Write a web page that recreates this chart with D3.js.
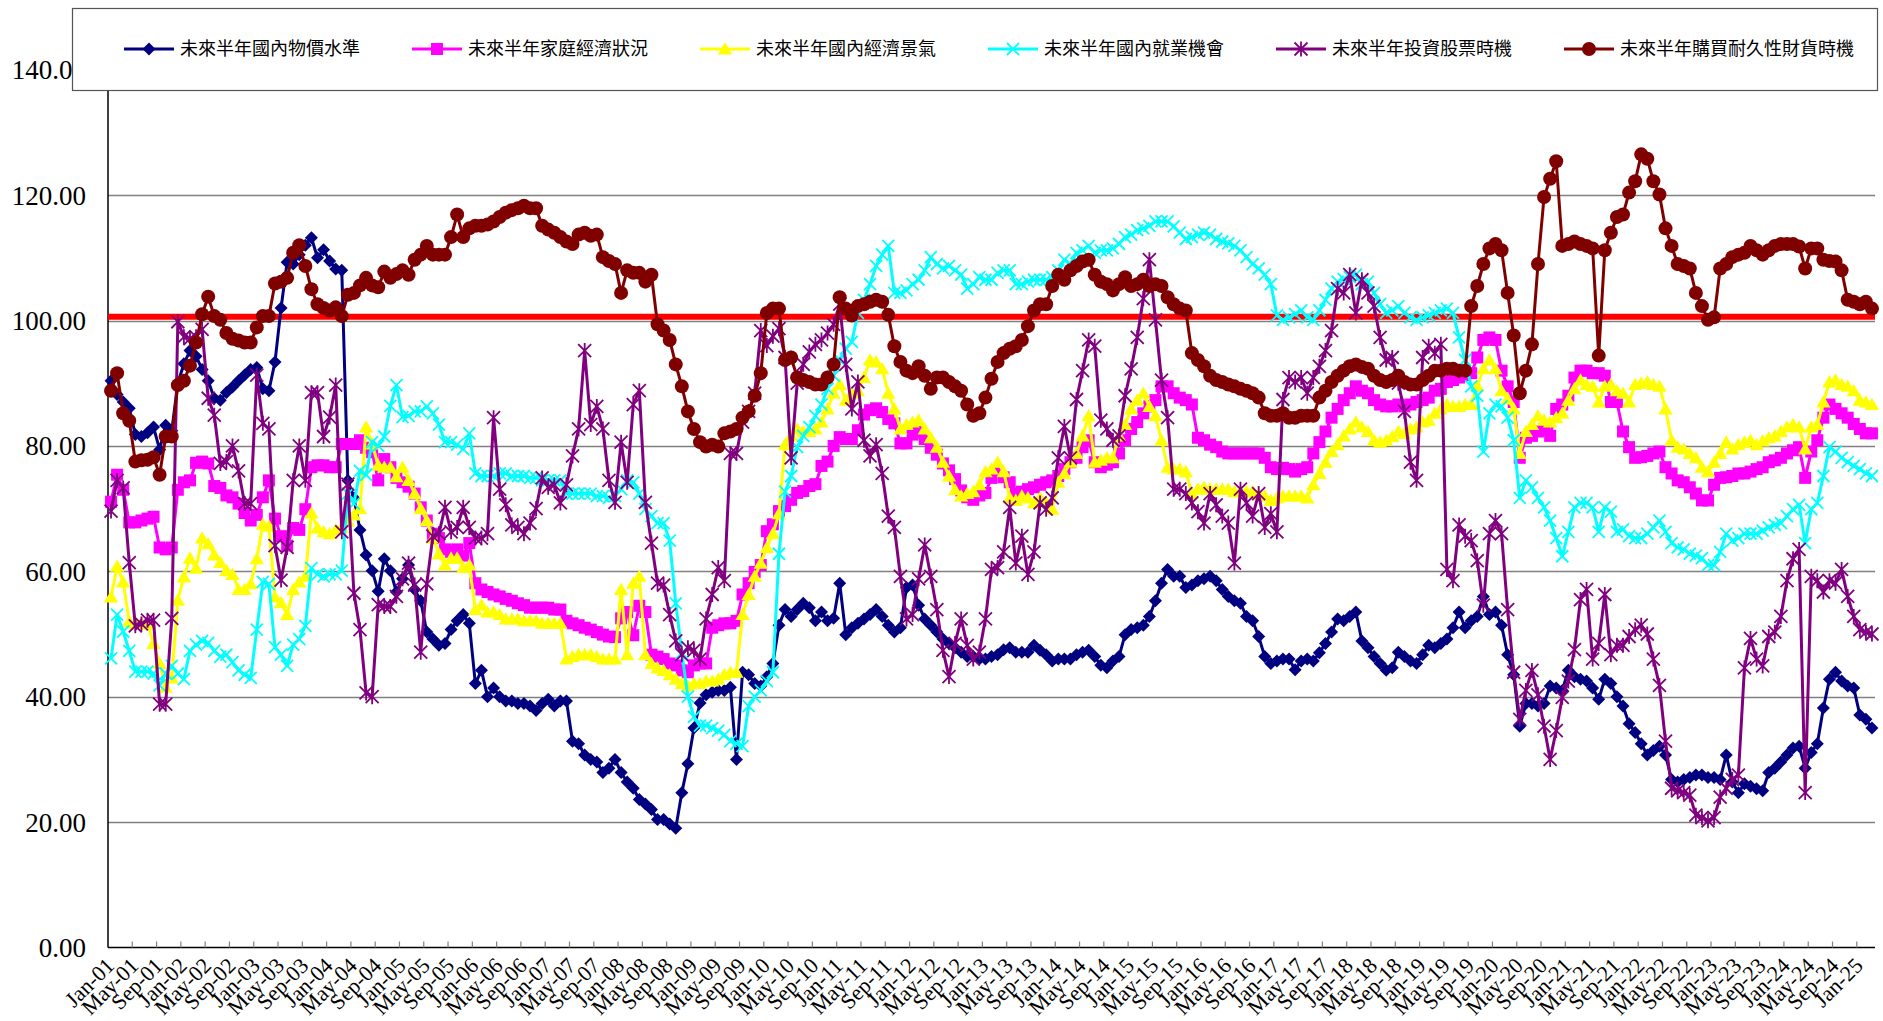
<!DOCTYPE html>
<html><head><meta charset="utf-8">
<script src="https://cdn.jsdelivr.net/npm/d3@7"></script>
<style>
html,body{margin:0;padding:0;background:#fff;overflow:hidden;}
svg{display:block;}
</style></head>
<body>
<svg id="chart" width="1883" height="1021"></svg>
<script>
// ---------------- DATA ----------------
const monthNames = ["Jan","Feb","Mar","Apr","May","Jun","Jul","Aug","Sep","Oct","Nov","Dec"];
const startYear = 2001, nMonths = 291; // Jan-01 .. Mar-25
const categories = [];
for (let i = 0; i < nMonths; i++) {
  const y = startYear + Math.floor(i / 12);
  categories.push(monthNames[i % 12] + "-" + String(y % 100).padStart(2, "0"));
}
const tickLabels = categories.filter((d, i) => i % 4 === 0);
const yTicks = [0, 20, 40, 60, 80, 100, 120, 140];
const seriesNames = ["未來半年國內物價水準","未來半年家庭經濟狀況","未來半年國內經濟景氣","未來半年國內就業機會","未來半年投資股票時機","未來半年購買耐久性財貨時機"];
const referenceLine = 100.6;

const priceLevel = [90.4,88.2,87,86,81.8,81.5,82.1,83,79.4,83.3,82.4,90,93.1,95.2,94.3,92.2,90.4,87.6,87.3,88.5,89.4,90.4,91.3,92.2,92.5,89.1,88.8,93.4,102,109.3,109,110.5,112,113.2,110,111.3,109.5,108.2,108,74.5,71.7,66.6,62.6,60.1,56.8,62,60.1,56.7,58.8,61,57.1,55.3,50.3,49.2,48.2,48.5,50.7,52.1,53.1,51.7,42.1,44.2,40,41.4,40,39.3,39.3,38.9,38.9,38.5,37.8,38.9,39.6,38.5,39.3,39.3,32.9,32.5,30.7,30,29.6,27.9,28.6,30,27.9,26.4,25.4,23.6,22.9,22,20.4,20.4,19.7,19,24.7,29.3,35,39,40.3,40.7,41,41,41.5,30,43.9,43.5,42.1,41.7,43.2,45.3,51.4,53.9,52.8,53.9,54.9,54.2,52.1,53.5,52.1,52.5,58.1,49.9,51,51.7,52.4,53.1,53.9,52.8,51.4,50.3,51,57.4,57.8,54.6,52.4,51.4,50.3,49.2,48.5,47.8,47.1,46.4,46.4,46,46,46.4,46.7,47.5,47.8,47.1,47.1,47.1,48.2,47.4,46.7,45.7,46,46,46,46.7,47.1,47.4,46.4,45,44.6,45.7,46.4,49.9,50.7,51,51.4,52.8,55.3,58.1,60.3,59.2,59.2,57.4,57.8,58.5,58.8,59.2,58.5,57.1,56,55.3,54.9,52.8,52.1,49.6,46.4,45.3,45.7,46,46,44.3,45.7,46,45.7,47,48.5,50.3,52.4,52.1,52.8,53.5,48.9,47.8,46.4,45.3,44.2,44.6,47.1,46.4,45.7,45.3,46.7,48.2,47.8,48.5,49.2,51,53.5,51,52.1,52.8,56,53.1,53.5,51.4,46.7,43.5,35.3,38.9,38.9,38.5,38.9,41.7,41.4,41,44.2,43.2,42.8,42.5,41.4,39.6,42.8,42.1,40,38.5,35.7,34.3,32.5,30.7,31.4,32.1,30.7,26.8,26.4,26.8,27.1,27.5,27.5,27.1,27.1,26.8,30.7,26.4,24.7,26.1,25.7,25.3,25,27.9,28.6,29.6,30.7,31.8,32.1,28.6,31.1,32.5,38.2,42.8,43.9,42.5,41.7,41.4,37.1,36.4,35];

const familyFinance = [71.1,75.4,73,67.8,67.8,68.1,68.4,68.7,63.8,63.5,63.8,73,74.2,74.5,77.3,77.5,77.2,73.6,73.3,72.1,71.8,70.8,69.3,68.1,69,71.8,74.5,68.4,65.6,64.1,66.9,66.6,69.9,76.6,76.9,76.9,76.6,76.6,80.3,80.3,80.3,80.9,79.7,79,74.5,77.9,76.6,74.9,74.2,73.5,72.4,70.2,68.1,66,65.3,63.5,63.1,63.5,62.5,64.5,58.1,57.1,56.7,56.3,56,55.6,55.3,54.9,54.6,54.2,54.2,54.2,54.2,53.9,53.9,52.1,51.7,51.4,51,50.7,50.3,49.9,49.6,49.5,52.5,53.5,49.8,54.5,53.5,46.7,46.4,46,45.3,45,44.2,43.9,45,45.3,45.3,51,51.4,51.7,51.7,52.1,56.3,58.1,59.9,61,66.4,67.5,69.6,70.4,71.4,72.5,72.8,73.6,73.9,76.8,77.5,80,81.4,81.1,81.1,82.5,85,85.7,86,85.4,84.3,83.6,80.4,80.4,81.8,82.2,81.1,79.7,78.6,77.2,76.1,74.7,72.9,71.8,71.4,72.1,72.5,74.9,75.9,75,74.2,72.4,72.7,73.1,73.4,73.8,74.2,74.5,75.2,76.3,77.4,78.1,79.8,80.9,77.4,76.6,77,77.4,78.8,80.9,82.7,83.8,85.2,86.3,87.3,89.5,89.5,88.4,87.7,87.3,86.6,81.3,80.9,80.2,79.8,79.1,78.8,78.8,78.8,78.8,78.8,78.8,78.1,76.6,76.3,76.5,76.3,75.9,76.3,76.6,78.8,80.6,82.3,84.5,85.9,87.3,88.4,89.5,88.8,88.4,87.3,86.6,86.3,86.3,86.6,86.3,86.6,87,87.3,87.7,88.8,89.1,90.2,90.5,90.9,91.3,91.6,94.1,96.9,97.3,96.9,92,89.5,87,78.1,81.3,81.6,82.3,82.7,81.6,85.9,86.6,88,90.9,92,92,91.6,91.6,91.2,87,87,82.3,79.8,78.1,78.2,78.4,78.8,79.1,76.6,75.6,74.5,74.2,73.4,72.4,71.3,71.3,73.8,74.9,75,75.2,75.6,75.6,75.9,76.3,76.6,77.4,77.7,78.1,78.8,79.3,79.8,74.9,79.1,80.9,84.5,86.6,85.9,85.2,84.5,83.5,82.7,82,82];

const economyOutlook = [55.9,60.8,58.3,52,51.6,51.8,51.6,48.5,45.3,41.5,43,55.4,59.1,62.1,60.5,65.3,64.4,62.6,61.4,60.1,59.5,57.1,57.1,58,62,67.5,67.2,55.9,55,53.1,57.1,58.3,59.2,69.3,66.9,66.3,66,66.6,67,68,69,70,83,80.3,76.9,76.6,76.6,75.1,76.6,74.5,72.4,70,68.1,65.3,62.8,61,62.1,62.1,60.6,61,53.9,54.6,53.5,53.5,53.1,52.4,52.4,52.4,52.1,52.1,52.1,51.7,51.7,51.7,51.7,46,46.4,46.7,46.7,46.7,46.4,46,46,46,57.1,46.7,58.1,59.2,46.7,45.3,44.6,44.2,43.5,42.8,42.1,41.7,42.1,42.1,42.5,42.5,42.8,43.5,43.9,43.9,53.1,56.3,59.2,61.3,63.8,66,69.2,80.2,81.6,82.7,82.3,82.3,82.7,83.8,85.9,88.4,89.8,87.3,88.4,88.8,90.9,93.7,93.4,92.3,88.4,85.9,82.7,83.4,83.8,84.1,82.7,81.3,79.8,77.4,75.2,73,72,72.4,72.7,73.8,75.9,76.3,77.4,75.9,71.7,71.3,72,71.7,70.9,71.7,71,69.9,74.2,75.6,77.4,78.8,81.6,84.8,77.4,77.7,78.1,78.1,81.6,83.4,85.9,87.3,88.4,86.3,84.8,80.9,76.6,76.3,76.3,75.9,72.4,73.1,73.4,73.1,73.1,73.1,73.1,72.7,72.7,72.7,72.7,72.3,72,71.3,71.7,72,72,72,72,71.7,73.8,75.6,77.4,79.1,80.2,81.6,82.7,83.8,83,82.3,80.9,80.6,80.9,81.5,82.3,82,82.7,83,83.8,84.1,85.2,85.9,86.6,86.3,86.3,86.6,86.6,89.5,92.3,93.7,92.3,88.8,87.5,85.9,78.8,82.3,83.4,84.8,84.1,83.8,84.5,85.2,87.3,89.1,90.5,89.8,89.5,87,89.5,89.8,88.8,88.4,87,89.8,90,90.2,89.8,89.5,85.9,80.9,79.8,79.5,78.8,78.1,76.6,75.9,77.4,78.8,80.6,79.5,80.2,80.6,80.9,80.2,80.8,81.3,81.6,82.3,83,83.4,83,79.5,83,83.4,87,90.2,90.5,89.8,89.5,88.8,87.3,87,86.6];

const employment = [46.1,53.1,50.4,47.3,44,44,44,43.7,41.8,43.7,44.9,43.7,42.8,47.3,48.3,48.9,48.6,47.3,46.4,46.7,45.5,44.2,43.5,43,50.7,58.3,58,47.9,46.7,44.9,48.3,49.2,51.3,60.5,59.5,59.2,59.5,59.5,60.1,72.4,70.8,76,75.4,80.6,80,81.5,86.4,89.7,84.6,84.8,85.5,85.5,86.3,85.2,83.4,80.6,80.6,80.2,79.5,82,75.6,75.2,75.2,75.2,75.6,75.6,75.2,75.2,75.2,74.9,74.9,74.5,74.5,74.5,74.5,72.4,72.4,72.4,72.4,72.4,72,72,71.7,72,73.1,74.5,74.2,72.4,69.9,68.8,67.7,67.7,64.9,54.9,47,40,36.8,35.4,35.4,35,34.6,33.9,32.9,32.5,32.1,38.5,40,41,42.5,43.9,62.8,72.7,75.2,79.8,81.6,83,84.8,86.6,89.1,91.2,93.7,95.5,96.6,101.2,103.3,105.8,108.7,110.5,111.9,104.4,104.4,104.8,105.8,106.5,108,110.1,109,108.3,108.7,108,107.3,105.1,105.8,106.9,106.5,106.5,107.6,108,108,105.8,105.8,106.2,106.5,106.5,106.5,106.9,108,109.7,109,110.8,111.2,111.9,110.8,111.2,111.2,111.5,112.2,113.3,113.7,114.4,114.7,115.1,115.8,115.8,115.8,115,114,113,113.3,113.7,114,113.7,113,112.6,112.3,111.9,111.2,110.1,109,108.3,107.3,105.8,100.8,100.1,100.5,101,101.6,100.5,100.1,101.6,103.3,105.1,106.2,106.6,106.9,107.3,105.8,106.2,104.4,102.6,101.2,101.6,102.3,101.2,100.5,100.1,100.5,100.8,101.2,101.6,101.9,101.2,97.3,93.7,89.5,88,79.1,85.2,86.6,86.3,84.5,80.9,71.7,74.5,73.4,71.7,70.2,68.1,65.3,62.4,66.3,70.2,70.9,70.9,70.2,66.3,70.2,69.5,66.3,66.7,65.6,65.3,65.3,66,67,68.1,66.3,64.5,63.8,63.5,62.8,62.5,62.1,61,61,63.1,66,64.9,65.3,66,66,66,66.5,67,67.4,67.7,68.8,69.9,70.6,64.5,69.9,70.9,75.2,79.8,79.1,78.1,77.4,76.8,76.3,75.6,75.2];

const stockTiming = [69.6,74.5,73.3,61.4,51.3,51.6,52.2,52.2,38.8,38.8,52.5,99.8,97.4,97.1,97.4,98.6,87.6,84.9,77.2,77.5,80,76,70.8,70.8,91.3,83.6,82.7,64.1,58.6,63.8,74.5,80,74.5,88.5,88.5,81.5,84.6,89.7,66.3,73.9,56.5,50.7,40.6,40,54.7,54.4,54.4,56,58.8,61.3,57.8,47.1,58,65.6,66,70.2,66.3,67,70.2,67,65.3,65.3,66,84.5,73.1,70.6,67.4,67,66,67.7,70,74.9,73.4,73.8,70.9,73.8,78.4,82.7,95.2,83.4,86.3,82.7,74.5,71,80.6,74.2,86.6,88.8,71,64.5,58.1,57.8,53.1,48.9,46.7,47.8,47.4,46,52.4,56.3,60.6,58.5,78.8,78.8,83.8,85.5,88.4,98.4,96,97.5,98.7,94.1,78.1,90,93,95,96.2,96.9,98,99.4,102.6,93,85.9,90.2,80.9,78.4,80.2,75.6,68.8,67,59.2,52.4,53.1,58.8,64.2,59.2,53.9,47.4,43.2,48.5,52.4,48.2,46,47.1,52.4,60.3,60.6,63.1,70.2,61.3,65.6,59.5,63.1,70.9,69.9,71.7,78.1,83.1,78.1,87.4,92,96.9,95.9,84.1,82.7,80.9,81.6,88,92.3,97.3,103.5,109.7,100.1,90.5,84.5,73.1,73.1,72.4,70.9,69.5,67.7,72.4,70.6,68.8,67.7,61.3,73.1,70.9,68.8,72.4,67,69.2,66.3,87.4,90.9,90.2,90.9,88.4,90.9,92.7,95.2,98.4,105.1,104.4,107.3,101.2,106.5,104.4,102.3,97.3,93.7,94.1,90,85.5,77.4,74.5,94.1,95.9,94.8,96.2,60.3,58.5,67.4,65.6,64.9,61.7,54.6,66,68.1,66,53.9,43.9,36.4,41,44.2,40.3,35.3,30,34.6,39.9,42.5,47.5,55.5,57.1,46,48.5,56.3,46.7,48.2,48.2,49.6,50.7,51.4,50,46,41.8,32.9,25.4,25,24.7,24.3,21.1,20.7,20.2,20.7,24,25.4,26.8,27.5,44.6,49.3,46,44.9,49.6,50.3,52.8,58.5,62,63.5,24.7,59.2,58.5,56.7,58.5,58.1,60.3,56,52.8,50.7,50.3,50];

const durableGoods = [88.8,91.6,85.2,84,77.5,77.7,77.8,78.2,75.4,81.5,81.5,89.7,90.4,92.8,96.5,101,103.8,100.7,100.1,98,97.1,96.8,96.5,96.5,98.9,100.7,100.7,105.9,106.2,106.8,110.8,112,108.7,105,102.6,102,101.6,102.1,100.7,104.1,104.4,105.6,106.8,105.6,105.3,107.8,106.8,107.4,108,107.3,109.7,110.5,111.9,110.5,110.5,110.5,113.3,116.9,113.3,114.7,115.1,115.1,115.3,115.8,116.5,117.2,117.6,117.9,118.3,117.9,117.9,115.1,114.5,114,113.3,112.6,112.2,113.7,114,113.5,113.7,110.1,109.5,109,104.4,108,107.6,107.6,106.2,107.3,99.4,98.4,96.9,93,89.5,85.5,82.7,80.6,79.9,80.2,79.9,82,82.3,82.7,84.5,85.5,88,91.6,101.2,101.9,101.9,93.7,94.1,90.9,90.5,90.2,89.8,89.8,90.9,93,103.7,101.9,100.8,102.3,102.6,103,103.3,103,100.9,95.9,93.4,92,91.6,92.7,91.2,89.1,90.9,90.9,90.2,89.5,88.8,86.6,84.8,85.2,87.7,90.7,93.4,94.8,95.5,95.9,96.9,99.1,101.6,102.6,102.6,105.5,107.3,106.5,108,108.7,109.4,109.7,107.3,106.2,105.8,104.8,105.8,106.9,105.5,105.8,106.5,105.5,105.8,105.5,103.7,102.6,101.9,101.6,94.8,93.7,92.7,91.2,90.5,90.2,89.8,89.5,89.1,88.8,88.4,87.7,85.2,84.8,84.8,85.2,84.5,84.5,84.8,84.8,84.8,87.7,88.8,90.2,91.2,92,92.7,93,92.6,92.3,91.2,90.5,90.2,90.5,91.2,90.2,89.8,89.8,90.5,91.2,92,92,92.3,92.3,92,92,102.3,105.5,109,111.5,112.2,111.2,104.4,97.6,88.4,92,96.2,109,119.7,122.6,125.4,111.9,112.2,112.6,112.2,111.9,111.5,94.4,111.2,114,116.5,116.9,120.4,122.2,126.5,125.8,122.2,120.1,114.7,111.9,109,108.7,108.3,104.4,102.3,100.1,100.5,108.3,109,110.1,110.5,110.8,111.9,111.2,110.5,111.2,111.9,112.2,112.2,112.2,111.8,108.3,111.5,111.5,109.7,109.5,109.4,108,103.3,103,102.6,103,101.9];

const seriesValues = [priceLevel, familyFinance, economyOutlook, employment, stockTiming, durableGoods];

// ---------------- STYLE ----------------
const colors = ["#000080","#FF00FF","#FFFF00","#00FFFF","#800080","#800000"];
const markers = ["diamond","square","triangle","x","star","circle"];
const serif = "'Liberation Serif','Times New Roman','DejaVu Serif',serif";

const plotL = 108, plotR = 1875, plotB = 947.5, plotT = 69.7;
const svg = d3.select("#chart");

const x = d3.scaleBand().domain(d3.range(categories.length)).range([plotL, plotR]).paddingInner(0).paddingOuter(0);
const bw = x.bandwidth();
const cx = i => x(i) + bw / 2;
const y = d3.scaleLinear().domain([0, 140]).range([plotB, plotT]);

// gridlines
svg.append("g").selectAll("line").data(yTicks.filter(v => v > 0)).join("line")
  .attr("x1", plotL).attr("x2", plotR)
  .attr("y1", d => Math.round(y(d)) + 0.5).attr("y2", d => Math.round(y(d)) + 0.5)
  .attr("stroke", "#808080").attr("stroke-width", 1.3);

// y labels
svg.append("g").selectAll("text").data(yTicks).join("text")
  .attr("x", 86).attr("y", d => y(d)).attr("dy", "0.35em")
  .attr("text-anchor", "end")
  .style("font-family", serif)
  .attr("font-size", 27).attr("fill", "#000")
  .text(d => d.toFixed(2));

// axes lines
svg.append("line").attr("x1", plotL).attr("x2", plotL).attr("y1", plotT - 10).attr("y2", plotB)
  .attr("stroke", "#000").attr("stroke-width", 1.5);
svg.append("line").attr("x1", plotL).attr("x2", plotR).attr("y1", plotB).attr("y2", plotB)
  .attr("stroke", "#000").attr("stroke-width", 1.5);

// x ticks (inside) every 4 categories, at band boundaries
const tickIdx = d3.range(4, categories.length, 4);
svg.append("g").selectAll("line").data(tickIdx).join("line")
  .attr("x1", d => x(d)).attr("x2", d => x(d))
  .attr("y1", plotB).attr("y2", plotB - 6)
  .attr("stroke", "#808080").attr("stroke-width", 1.2);

// x labels
svg.append("g").selectAll("text").data(tickLabels).join("text")
  .attr("transform", (d, k) => `translate(${cx(k * 4) - 1},${plotB + 14}) rotate(-45)`)
  .attr("text-anchor", "end").attr("dy", "0.35em")
  .style("font-family", serif)
  .attr("font-size", 22).attr("fill", "#000")
  .text(d => d);

// reference red line
svg.append("line").attr("x1", plotL).attr("x2", plotR)
  .attr("y1", y(referenceLine)).attr("y2", y(referenceLine))
  .attr("stroke", "#FF0000").attr("stroke-width", 6);

// marker paths
function markerPath(type, s) {
  switch (type) {
    case "diamond": return `M0,${-s}L${s},0L0,${s}L${-s},0Z`;
    case "square": return `M${-s},${-s}H${s}V${s}H${-s}Z`;
    case "triangle": return `M0,${-s*1.05}L${s*1.1},${s*0.85}L${-s*1.1},${s*0.85}Z`;
    case "x": return `M${-s},${-s}L${s},${s}M${-s},${s}L${s},${-s}`;
    case "star": return `M${-s},${-s}L${s},${s}M${-s},${s}L${s},${-s}M0,${-s*1.15}L0,${s*1.15}`;
    case "circle": return `M${s},0A${s},${s} 0 1,1 ${-s},0A${s},${s} 0 1,1 ${s},0Z`;
  }
}
const markerSize = {diamond: 6.5, square: 6, triangle: 6.5, x: 6, star: 6.5, circle: 7};

const line = d3.line().x((d, i) => cx(i)).y(d => y(d));

seriesValues.forEach((vals, s) => {
  const g = svg.append("g");
  g.append("path").datum(vals).attr("d", line)
    .attr("fill", "none").attr("stroke", colors[s]).attr("stroke-width", 3)
    .attr("stroke-linejoin", "round");
  const type = markers[s];
  const filled = !(type === "x" || type === "star");
  g.selectAll("path.m").data(vals).join("path").attr("class", "m")
    .attr("transform", (d, i) => `translate(${cx(i)},${y(d)})`)
    .attr("d", markerPath(type, markerSize[type]))
    .attr("fill", filled ? colors[s] : "none")
    .attr("stroke", colors[s])
    .attr("stroke-width", filled ? 0 : 1.8);
});

// legend
const leg = svg.append("g");
leg.append("rect").attr("x", 72.5).attr("y", 8.5).attr("width", 1805).attr("height", 82)
  .attr("fill", "#fff").attr("stroke", "#555").attr("stroke-width", 1.2);
seriesNames.forEach((name, s) => {
  const x0 = 124 + s * 288, yy = 49;
  leg.append("line").attr("x1", x0).attr("x2", x0 + 50).attr("y1", yy).attr("y2", yy)
    .attr("stroke", colors[s]).attr("stroke-width", 3);
  const type = markers[s];
  const filled = !(type === "x" || type === "star");
  leg.append("path").attr("transform", `translate(${x0 + 25},${yy})`)
    .attr("d", markerPath(type, markerSize[type]))
    .attr("fill", filled ? colors[s] : "none").attr("stroke", colors[s])
    .attr("stroke-width", filled ? 0 : 1.8);
  leg.append("text").attr("x", x0 + 56).attr("y", yy).attr("dy", "0.35em")
    .style("font-family", "'Noto Sans CJK TC','Noto Sans CJK SC',sans-serif")
    .attr("font-size", 18).attr("fill", "#000").text(name);
});
</script>
</body></html>
